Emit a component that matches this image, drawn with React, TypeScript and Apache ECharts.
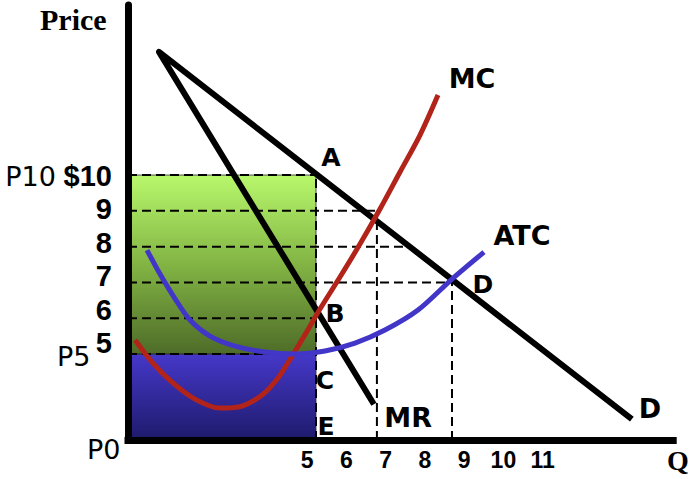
import React, { useEffect, useRef } from "react";
import * as echarts from "echarts";

// ---------- data (Q = quantity, P = price) ----------
const demandQ = [0.824, 13.4];
const demandP = [13.44, 3.18];
const mrQ = [0.824, 6.54];
const mrP = [13.44, 3.6];
const mcQ = [0.186, 0.638, 1.17, 1.782, 2.447, 3.032, 3.564, 3.989, 4.362, 4.734, 5.106, 5.638, 6.17, 6.702, 7.234, 7.766, 8.245];
const mcP = [5.391, 4.777, 4.218, 3.743, 3.492, 3.547, 3.855, 4.33, 4.944, 5.587, 6.257, 7.151, 8.073, 9.05, 10.084, 11.117, 12.235];
const atcQ = [0.505, 0.851, 1.223, 1.649, 2.181, 2.846, 3.644, 4.441, 5.239, 6.037, 6.835, 7.713, 8.617, 9.468];
const atcP = [7.905, 7.235, 6.592, 5.95, 5.503, 5.223, 5.056, 5.0, 5.084, 5.307, 5.67, 6.229, 7.095, 7.849];

const guidePrices = [10, 9, 8, 7, 6, 5];
const guideEndQ = [5.0, 6.62, 7.5, 8.617, 5.0, 4.18];
const dropQ = [5.0, 6.62, 8.617];
const dropTopP = [10, 9, 7];

const profitQ = [0, 5];
const profitP = [5, 10];
const costQ = [0, 5];
const costP = [2.6, 5];

const priceTicks = [10, 9, 8, 7, 6, 5];
const quantityTicks = [5, 6, 7, 8, 9, 10, 11];

const pointNames = ["A", "B", "C", "E", "MR", "D", "D", "MC", "ATC"];
const pointQ = [5.4, 5.505, 5.24, 5.27, 7.45, 13.88, 9.44, 9.15, 10.48];
const pointP = [10.5, 6.145, 4.27, 2.99, 3.24, 3.49, 6.93, 12.71, 8.32];
const curveLabels = ["MR", "MC", "ATC"];

// ---------- layout constants ----------
const Q_MIN = 0;
const Q_MAX = 14.5;
const P_MIN = 2.6;
const P_MAX = 14.75;

const SANS = "'Liberation Sans', Arial, sans-serif";
const DEJAVU = "'DejaVu Sans', Verdana, sans-serif";
const SERIF = "'Liberation Serif', 'Times New Roman', serif";

const zip = (a: number[], b: number[]) => a.map((v, i) => [v, b[i]]);

function buildOption() {
  const dashStyle = { color: "#000", width: 2, type: [9, 5] as any };

  const guideSeries = guidePrices.map((p, i) => ({
    type: "line",
    xAxisIndex: 0,
    yAxisIndex: 0,
    data: [
      [Q_MIN, p],
      [guideEndQ[i], p],
    ],
    symbol: "none",
    silent: true,
    z: 3,
    lineStyle: dashStyle,
  }));
  const dropSeries = dropQ.map((q, i) => ({
    type: "line",
    xAxisIndex: 0,
    yAxisIndex: 0,
    data: [
      [q, P_MIN],
      [q, dropTopP[i]],
    ],
    symbol: "none",
    silent: true,
    z: 3,
    lineStyle: dashStyle,
  }));

  const greenFill = new echarts.graphic.LinearGradient(0, 0, 0, 1, [
    { offset: 0, color: "#b8f86c" },
    { offset: 0.5, color: "#82b444" },
    { offset: 1, color: "#4e6c28" },
  ]);
  const blueFill = new echarts.graphic.LinearGradient(0, 0, 0, 1, [
    { offset: 0, color: "#4538c9" },
    { offset: 1, color: "#1e1a6b" },
  ]);
  const fills = [greenFill, blueFill];

  const kinked = [
    [demandQ[1], demandP[1]],
    [demandQ[0], demandP[0]],
    [mrQ[1], mrP[1]],
  ];

  return {
    animation: false,
    backgroundColor: "#ffffff",
    grid: [
      { left: 128, top: 5, width: (Q_MAX - Q_MIN) * 37.6, height: 435, containLabel: false },
      { left: 128, top: 109.2, width: 100, height: 300.6, containLabel: false },
      { left: 267.9, top: 5, width: 314, height: 435, containLabel: false },
    ],
    xAxis: [
      {
        type: "value",
        gridIndex: 0,
        min: Q_MIN,
        max: Q_MAX,
        z: 10,
        axisLine: { show: true, lineStyle: { color: "#000", width: 7, cap: "square" } },
        axisTick: { show: false },
        axisLabel: { show: false },
        splitLine: { show: false },
      },
      { type: "value", gridIndex: 1, min: 0, max: 1, show: false },
      {
        type: "value",
        gridIndex: 2,
        min: 4,
        max: 12,
        interval: 1,
        axisLine: { show: false },
        axisTick: { show: false },
        splitLine: { show: false },
        axisLabel: {
          show: true,
          margin: 8,
          fontSize: 23,
          fontWeight: "bold",
          fontFamily: SANS,
          color: "#000",
          formatter: (v: number) => (quantityTicks.includes(v) ? String(v) : ""),
        },
      },
    ],
    yAxis: [
      {
        type: "value",
        gridIndex: 0,
        min: P_MIN,
        max: P_MAX,
        z: 10,
        axisLine: { show: true, lineStyle: { color: "#000", width: 7 } },
        axisTick: { show: false },
        axisLabel: { show: false },
        splitLine: { show: false },
      },
      {
        type: "value",
        gridIndex: 1,
        min: 3,
        max: 12,
        interval: 1,
        axisLine: { show: false },
        axisTick: { show: false },
        splitLine: { show: false },
        axisLabel: {
          show: true,
          margin: 16,
          fontSize: 28,
          fontWeight: "bold",
          fontFamily: SANS,
          color: "#000",
          formatter: (v: number) => {
            if (!priceTicks.includes(v)) return "";
            if (v === priceTicks[0]) return "{p|P" + v + "} {b|$" + v + "}";
            return "{b|" + v + "}";
          },
          rich: {
            p: { fontSize: 27, fontWeight: "normal", fontFamily: DEJAVU, color: "#000" },
            b: { fontSize: 29, fontWeight: "bold", fontFamily: SANS, color: "#000" },
          },
        },
      },
      { type: "value", gridIndex: 2, min: 0, max: 1, show: false },
    ],
    series: [
      {
        type: "custom",
        xAxisIndex: 0,
        yAxisIndex: 0,
        silent: true,
        z: 1,
        data: [
          [profitQ[0], profitP[0], profitQ[1], profitP[1], 0],
          [costQ[0], costP[0], costQ[1], costP[1], 1],
        ],
        encode: { x: [0, 2], y: [1, 3] },
        renderItem: (_params: any, api: any) => {
          const a = api.coord([api.value(0), api.value(3)]);
          const b = api.coord([api.value(2), api.value(1)]);
          return {
            type: "rect",
            shape: { x: a[0], y: a[1], width: b[0] - a[0], height: b[1] - a[1] },
            style: { fill: fills[api.value(4)], stroke: "#2a2a2a", lineWidth: 0.8 },
          };
        },
      },
      ...guideSeries,
      ...dropSeries,
      {
        name: "D / MR",
        type: "line",
        xAxisIndex: 0,
        yAxisIndex: 0,
        data: kinked,
        symbol: "none",
        z: 4,
        lineStyle: { color: "#000", width: 6, join: "round", cap: "butt" },
      },
      {
        name: "MC",
        type: "line",
        xAxisIndex: 0,
        yAxisIndex: 0,
        data: zip(mcQ, mcP),
        smooth: 0.3,
        symbol: "none",
        z: 5,
        lineStyle: { color: "#b2231a", width: 5 },
      },
      {
        name: "ATC",
        type: "line",
        xAxisIndex: 0,
        yAxisIndex: 0,
        data: zip(atcQ, atcP),
        smooth: 0.3,
        symbol: "none",
        z: 6,
        lineStyle: { color: "#4236c8", width: 5 },
      },
      {
        type: "scatter",
        xAxisIndex: 0,
        yAxisIndex: 0,
        symbolSize: 0,
        silent: true,
        z: 7,
        itemStyle: { opacity: 1 },
        data: pointNames.map((n, i) => {
          const big = curveLabels.includes(n) || (n === "D" && i === pointNames.indexOf("D"));
          return {
            name: n,
            value: [pointQ[i], pointP[i]],
            label: {
              show: true,
              position: "inside",
              formatter: n,
              fontSize: big ? 27 : 25,
              fontFamily: DEJAVU,
              fontWeight: "bold",
              color: "#000",
              opacity: 1,
            },
          };
        }),
      },
    ],
    graphic: [
      {
        type: "text",
        left: 40,
        top: 4,
        style: { text: "Price", font: `bold 30px ${SERIF}`, fill: "#000" },
      },
      {
        type: "text",
        left: 667,
        top: 446,
        style: { text: "Q", font: `bold 28px ${SERIF}`, fill: "#000" },
      },
      {
        type: "text",
        left: 57,
        top: 343,
        style: { text: "P5", font: `27px ${DEJAVU}`, fill: "#000" },
      },
      {
        type: "text",
        left: 87,
        top: 436,
        style: { text: "P0", font: `27px ${DEJAVU}`, fill: "#000" },
      },
    ],
  };
}

export default function App() {
  const ref = useRef<HTMLDivElement>(null);
  useEffect(() => {
    const chart = echarts.init(ref.current!, null, { renderer: "svg" });
    chart.setOption(buildOption() as any);
    return () => chart.dispose();
  }, []);
  return (
    <div
      ref={ref}
      style={{ position: "fixed", left: 0, top: 0, width: 694, height: 479, background: "#fff" }}
    />
  );
}
